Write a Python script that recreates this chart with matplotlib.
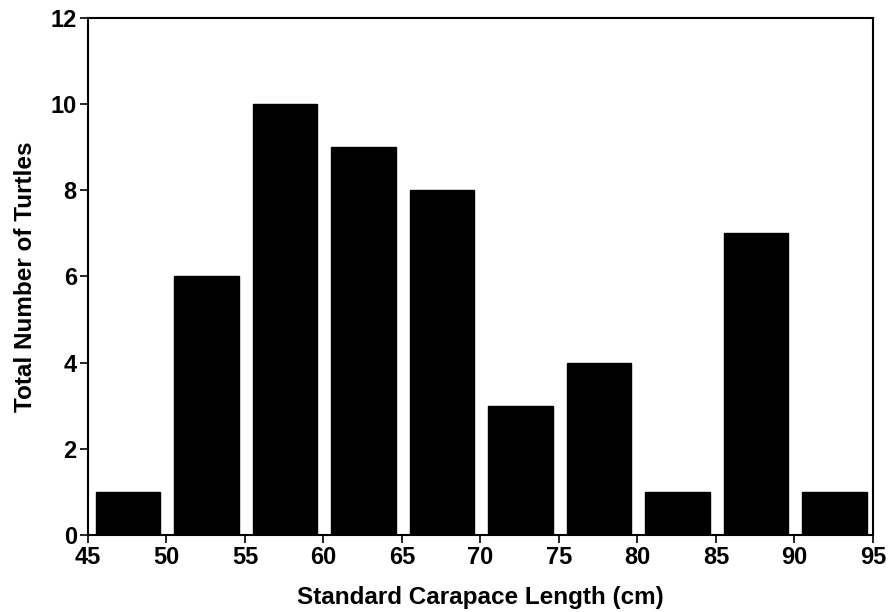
import matplotlib.pyplot as plt

plt.rcParams['font.family'] = ['Liberation Sans', 'DejaVu Sans']

# limites inferiores de cada clase (cm) y numero de tortugas
limites = [45, 50, 55, 60, 65, 70, 75, 80, 85, 90]
tortugas = [1, 6, 10, 9, 8, 3, 4, 1, 7, 1]

fig = plt.figure(figsize=(8.88, 6.12), dpi=100)
ax = fig.add_axes([0.099, 0.126, 0.884, 0.845])

centros = [x + 2.55 for x in limites]
ax.bar(centros, tortugas, width=4.1, color='black', edgecolor='black', linewidth=1)

ax.set_xlim(45, 95)
ax.set_ylim(0, 12)
ax.set_xticks(range(45, 96, 5))
ax.set_yticks(range(0, 13, 2))
ax.tick_params(direction='out', length=6, width=1.2, labelsize=17, pad=2)
for lab in ax.get_xticklabels() + ax.get_yticklabels():
    lab.set_fontweight('bold')
for s in ax.spines.values():
    s.set_linewidth(1.5)

ax.set_xlabel('Standard Carapace Length (cm)', fontsize=17.5, fontweight='bold', labelpad=12)
ax.set_ylabel('Total Number of Turtles', fontsize=17.5, fontweight='bold', labelpad=10)

plt.savefig('out.png', dpi=100)
